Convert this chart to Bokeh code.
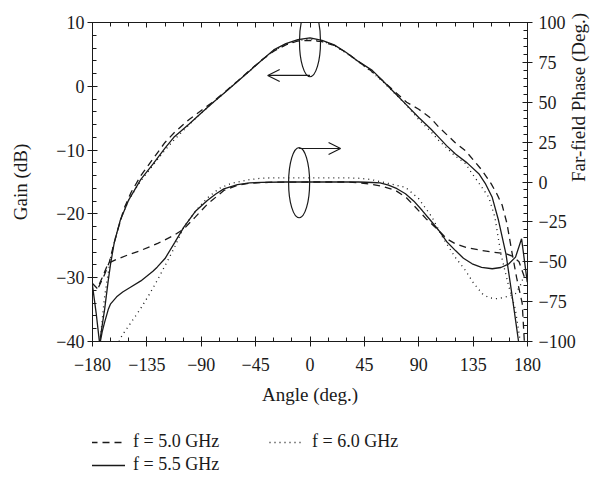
import math
from bokeh.plotting import figure
from bokeh.layouts import column
from bokeh.models import (LinearAxis, Range1d, Legend, LegendItem, Arrow,
                          OpenHead, FixedTicker)
from bokeh.embed import file_html
from bokeh.resources import INLINE

# ---------------- data ----------------
# Gain (dB), left axis
gain50_x = [-175, -170, -166, -162, -158, -154, -148, -140, -130, -120, -112, -100, -90, -80, -70, -60, -50, -40,
            -30, -20, -10, 0, 10, 20, 30, 40, 50, 60, 70, 80, 90, 100, 106.6, 115, 120, 128.7, 135, 142.5, 150, 155,
            159, 163, 167.4, 171, 175.6, 178]
gain50_y = [-31.5, -29.5, -27.5, -24.5, -21.8, -19.2, -16.6, -14.0, -11.4, -8.8, -7.2, -5.2, -3.8, -2.4, -0.8, 0.8,
            2.5, 4.1, 5.5, 6.5, 7.1, 7.2, 7.0, 6.4, 5.3, 3.9, 2.5, 0.9, -0.8, -2.5, -3.6, -5.0, -6.4, -7.9, -8.8,
            -10.1, -11.5, -13.2, -15.3, -17.0, -18.6, -21.5, -26.3, -30.0, -34.0, -42.0]

gain55_x = [-176, -174, -172, -170, -167, -165, -162, -157, -150, -140, -130, -120, -112.7, -100, -90, -80, -70,
            -60, -50, -40, -30, -20, -10, 0, 10, 20, 30, 40, 51.5, 60, 70, 79, 90, 100, 106.6, 113, 120.4, 130,
            139.7, 145, 150.8, 156, 162.2, 167.4, 172.9, 176]
gain55_y = [-45.0, -40.0, -37.5, -35.0, -30.5, -27.8, -24.5, -21.0, -17.8, -14.6, -12.2, -9.7, -8.0, -5.9, -4.2,
            -2.5, -0.9, 0.75, 2.4, 4.1, 5.7, 6.7, 7.3, 7.6, 7.2, 6.5, 5.3, 3.9, 2.5, 0.9, -1.0, -2.75, -4.9, -6.7,
            -8.0, -9.3, -10.6, -12.0, -13.7, -15.2, -17.4, -21.0, -26.3, -33.0, -40.4, -45.0]

gain60_x = [-176, -173.4, -170, -165, -160, -155, -150, -140, -130, -120, -112, -100, -90, -80, -70, -60, -50, -40,
            -30, -20, -10, 0, 10, 20, 30, 40, 50, 60, 70, 80, 90, 100, 106.6, 115, 120, 128.7, 134.2, 141, 148,
            153, 158, 164, 170, 174]
gain60_y = [-44.0, -39.3, -33.0, -26.8, -23.0, -20.0, -17.8, -14.8, -12.4, -10.0, -8.3, -6.0, -4.2, -2.5, -0.9,
            0.8, 2.4, 4.1, 5.6, 6.6, 7.2, 7.4, 7.1, 6.4, 5.2, 3.8, 2.4, 0.8, -1.1, -3.0, -5.2, -7.1, -8.5, -10.0,
            -10.9, -12.1, -13.7, -15.5, -17.4, -20.5, -26.3, -31.0, -35.0, -40.0]

# Far-field phase (deg.), right axis
phase50_x = [-180, -176, -172, -167, -160, -150, -140.3, -126, -112.7, -104.4, -95, -85, -71.3, -60, -50, -43.7,
             -30, 0, 30, 40, 50, 60, 70.8, 80, 87.3, 96, 106.6, 113, 120.4, 130, 142.5, 152, 162.2, 167.4, 173,
             178.4]
phase50_y = [-63.6, -66.8, -60.0, -51.0, -48.5, -45.5, -43.0, -38.5, -33.5, -29.4, -22.0, -14.0, -5.3, -2.0, -0.8,
             -0.5, -0.1, 0.0, 0.0, -0.4, -1.3, -2.8, -5.3, -10.0, -15.8, -23.0, -30.4, -35.5, -38.8, -41.2, -43.0,
             -44.0, -45.0, -46.5, -50.0, -61.7]

phase55_x = [-180, -177, -174, -172, -170, -167, -165, -160, -155, -148.6, -140, -130, -126.5, -120, -112, -104.4,
             -95, -85, -78, -71.3, -60, -50, -40, -20, 0, 20, 40, 51.5, 58, 65, 72, 79, 86, 92.9, 100, 106.6, 113,
             120.4, 127, 134.2, 142, 150.8, 158, 164.6, 170.1, 175.1, 179.8]
phase55_y = [-65.0, -82.0, -102.0, -94.0, -88.0, -80.0, -76.4, -72.0, -69.0, -66.0, -62.0, -56.0, -53.4, -48.0,
             -38.0, -28.3, -18.5, -11.6, -7.5, -4.3, -1.6, -0.6, -0.2, 0.0, 0.0, 0.0, 0.0, -0.3, -0.6, -2.0, -4.2,
             -7.4, -12.0, -17.9, -24.3, -30.4, -37.3, -43.0, -47.8, -51.3, -53.5, -54.4, -53.6, -51.3, -47.1,
             -35.6, -62.8]

phase60_x = [-158, -155.4, -148, -140.3, -133, -126.5, -120, -112.7, -104.4, -95, -85, -75, -65, -50, -40, -30, 0,
             30, 40, 50, 60, 70, 79, 90, 101, 110, 115, 120, 128.7, 135, 142.5, 148, 153.5, 160, 165, 170, 174,
             176]
phase60_y = [-100.0, -96.0, -88.0, -79.5, -70.5, -61.8, -52.5, -41.9, -28.3, -18.5, -10.0, -4.0, -0.8, 1.5, 2.4,
             2.6, 2.6, 2.6, 2.4, 1.6, 0.0, -1.8, -3.3, -10.5, -22.1, -35.0, -41.0, -47.0, -55.5, -63.0, -70.0,
             -72.5, -73.2, -72.5, -71.5, -70.0, -65.0, -61.0]

x_ticks = [-180, -135, -90, -45, 0, 45, 90, 135, 180]
x_minor = list(range(-180, 181, 15))
gain_ticks = [-40, -30, -20, -10, 0, 10]
gain_minor = list(range(-40, 11, 2))
phase_ticks = [-100, -75, -50, -25, 0, 25, 50, 75, 100]
phase_minor = list(range(-100, 101, 5))

legend_labels = ["f = 5.0 GHz", "f = 5.5 GHz", "f = 6.0 GHz"]
legend_dashes = ["7 5", "solid", "1 4"]

# ellipse/arrow annotations (data units)
ell_x = [0, -9]
ell_y = [7.0, -15.1]
ell_w = 17.4
ell_h = 11.0

FONT = "Liberation Serif"
INK = "#1a1a1a"
W = 607


def fmt(t):
    return str(t).replace("-", "\u2212")


p = figure(width=W, height=410, x_range=Range1d(-180, 180), y_range=Range1d(-40, 10),
           output_backend="svg", toolbar_location=None,
           min_border_left=92, min_border_right=80, min_border_top=22, min_border_bottom=69)
p.extra_y_ranges = {"phase": Range1d(-100, 100)}
p.grid.visible = False
p.outline_line_color = INK
p.background_fill_color = "white"
p.border_fill_color = "white"


def style_axis(ax, ticks, minor, labels=True):
    ax.ticker = FixedTicker(ticks=ticks, minor_ticks=minor)
    if labels:
        ax.major_label_overrides = {t: fmt(t) for t in ticks}
    else:
        ax.major_label_overrides = {t: "" for t in ticks}
    ax.major_tick_in = 5
    ax.major_tick_out = 5
    ax.minor_tick_in = 4
    ax.minor_tick_out = 0
    ax.axis_line_color = INK
    ax.major_tick_line_color = INK
    ax.minor_tick_line_color = INK
    ax.major_label_text_font = FONT
    ax.major_label_text_font_size = "18px"
    ax.major_label_text_color = INK
    ax.axis_label_text_font = FONT
    ax.axis_label_text_font_size = "19px"
    ax.axis_label_text_font_style = "normal"
    ax.axis_label_text_color = INK


xa = p.xaxis[0]
style_axis(xa, x_ticks, x_minor)
xa.axis_label = "Angle (deg.)"
xa.major_label_standoff = 11
xa.axis_label_standoff = 10

ya = p.yaxis[0]
style_axis(ya, gain_ticks, gain_minor)
ya.axis_label = "Gain (dB)"
ya.major_label_standoff = 3
ya.axis_label_standoff = 22

ra = LinearAxis(y_range_name="phase", axis_label="Far-field Phase (Deg.)")
style_axis(ra, phase_ticks, phase_minor)
ra.major_label_standoff = 6
ra.axis_label_standoff = 0
if "axis_label_orientation" in ra.properties():
    ra.axis_label_orientation = math.pi / 2
p.add_layout(ra, "right")

ta = LinearAxis()
style_axis(ta, x_ticks, x_minor, labels=False)
ta.major_tick_out = 0
ta.major_label_standoff = 0
p.add_layout(ta, "above")

lw = 1.3
p.line(gain50_x, gain50_y, line_color=INK, line_width=lw, line_dash=legend_dashes[0])
p.line(gain55_x, gain55_y, line_color=INK, line_width=lw, line_dash=legend_dashes[1])
p.line(gain60_x, gain60_y, line_color=INK, line_width=lw, line_dash=legend_dashes[2])
p.line(phase50_x, phase50_y, line_color=INK, line_width=lw, line_dash=legend_dashes[0], y_range_name="phase")
p.line(phase55_x, phase55_y, line_color=INK, line_width=lw, line_dash=legend_dashes[1], y_range_name="phase")
p.line(phase60_x, phase60_y, line_color=INK, line_width=lw, line_dash=legend_dashes[2], y_range_name="phase")

p.ellipse(x=ell_x, y=ell_y, width=ell_w, height=ell_h, fill_alpha=0, line_color=INK, line_width=1.2)

# arrows: from gain ellipse to the left (left axis), from phase ellipse to the right (right axis)
p.add_layout(Arrow(x_start=0, y_start=1.7, x_end=-35, y_end=1.7, line_color=INK, line_width=1.2,
                   end=OpenHead(size=12, line_color=INK, line_width=1.2)))
p.add_layout(Arrow(x_start=-9, y_start=-9.75, x_end=25.3, y_end=-9.75, line_color=INK, line_width=1.2,
                   end=OpenHead(size=12, line_color=INK, line_width=1.2)))

# ---------------- legend strip below the chart ----------------
lg = figure(width=W, height=67, output_backend="svg", toolbar_location=None,
            x_axis_location=None, y_axis_location=None,
            x_range=Range1d(0, 1), y_range=Range1d(0, 1),
            min_border_left=0, min_border_right=0, min_border_top=0, min_border_bottom=0)
lg.grid.visible = False
lg.outline_line_color = None
lg.border_fill_color = "white"
lg.background_fill_color = "white"
items = []
for lab, dash in zip(legend_labels, legend_dashes):
    # one-point line: draws nothing on the strip, only supplies the legend sample style
    r = lg.line(x=[2], y=[2], line_color=INK, line_width=lw, line_dash=dash)
    items.append(LegendItem(label=lab, renderers=[r]))
legend = Legend(items=items, ncols=2, location=(-2, 2))
legend.border_line_color = None
legend.background_fill_alpha = 0
legend.label_text_font = FONT
legend.label_text_font_size = "18px"
legend.label_text_color = INK
legend.glyph_width = 35
legend.label_standoff = 8
legend.label_width = 134
legend.spacing = 2
legend.padding = 0
legend.margin = 0
legend.label_height = 20
legend.glyph_height = 20
lg.add_layout(legend)

open("out.html", "w").write(file_html(column(p, lg, spacing=0), INLINE))
